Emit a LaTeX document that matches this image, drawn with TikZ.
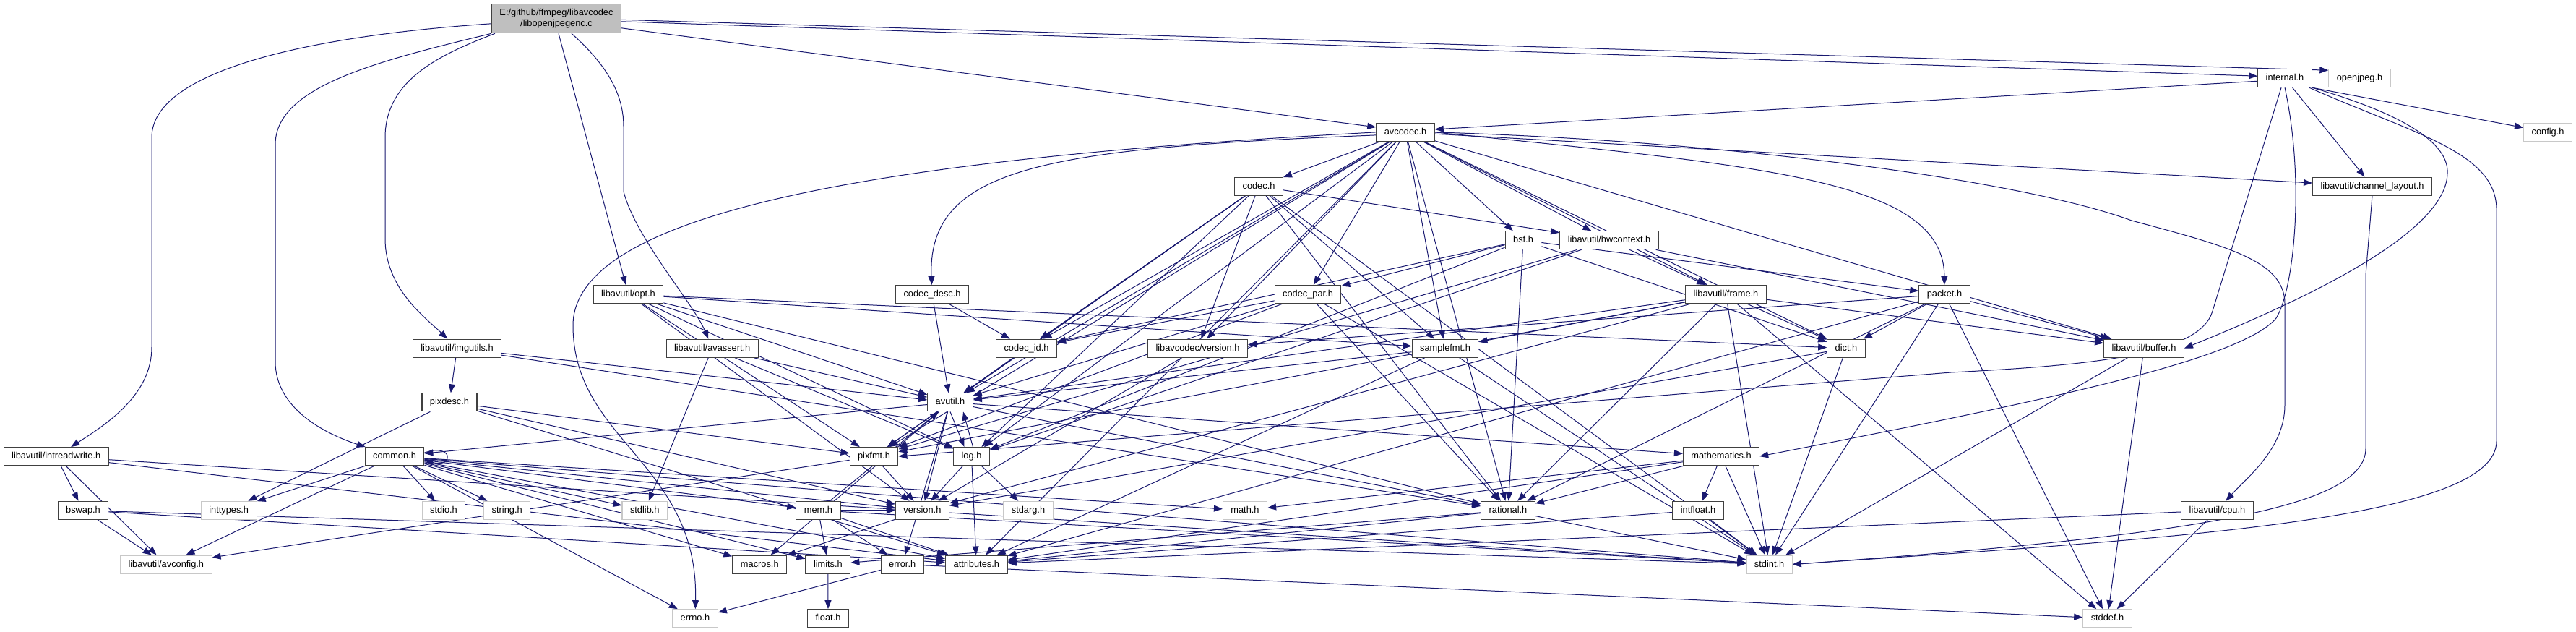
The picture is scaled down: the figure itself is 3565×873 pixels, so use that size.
\documentclass[tikz,border=0pt]{standalone}
\usepackage{fontspec}
\setmainfont{Liberation Sans}
\usetikzlibrary{arrows.meta}
\definecolor{edgec}{RGB}{25,25,112}
\definecolor{rootfill}{RGB}{191,191,191}
\definecolor{gbord}{RGB}{200,200,200}
\newcommand\ndfont{\fontsize{12.8pt}{15pt}\selectfont}
\pgfdeclarelayer{bg}
\pgfdeclarelayer{edges}
\pgfsetlayers{bg,edges,main}
\tikzset{
  nd/.style={draw=black!75, line width=1.1pt, fill=white, inner xsep=11pt, inner ysep=0pt,
    minimum height=25pt, font=\ndfont, text height=9.6pt, text depth=2.6pt},
  gn/.style={nd, draw=gbord},
  rt/.style={draw=black!75, line width=1.1pt, fill=rootfill, inner xsep=11pt, inner ysep=4pt,
    minimum height=40pt, align=center, font=\ndfont},
  e/.style={draw=edgec, line width=1pt, -{Triangle[length=12pt,width=9pt]}},
}
\begin{document}
\begin{tikzpicture}[x=1pt,y=-1pt]
\useasboundingbox (0,0) rectangle (3565,873);
\begin{pgfonlayer}{bg}
\fill[white] (0,0) rectangle (3565,873);
\draw[gbord, line width=1pt] (3563,0) -- (3563,873);
\end{pgfonlayer}
% rank 0-4
\node[rt] (R) at (770,25.8) {E:/github/ffmpeg/libavcodec\\/libopenjpegenc.c};
\node[nd] (INT) at (3162,108.2) {internal.h};
\node[gn] (OJ) at (3265.5,108.2) {openjpeg.h};
\node[nd] (AC) at (1945,182.9) {avcodec.h};
\node[gn] (CFG) at (3526,182.9) {config.h};
\node[nd] (CO) at (1742,257.6) {codec.h};
\node[nd] (CH) at (3283,257.6) {libavutil/channel\_layout.h};
\node[nd] (BSF) at (2108,332.3) {bsf.h};
\node[nd] (HW) at (2227,332.3) {libavutil/hwcontext.h};
% rank 5
\node[nd] (OPT) at (869.5,407) {libavutil/opt.h};
\node[nd] (CD) at (1290,407) {codec\_desc.h};
\node[nd] (CP) at (1810,407) {codec\_par.h};
\node[nd] (FR) at (2388.5,407) {libavutil/frame.h};
\node[nd] (PK) at (2691,407) {packet.h};
% rank 6
\node[nd] (IMG) at (632.5,481.7) {libavutil/imgutils.h};
\node[nd] (AS) at (985.7,481.7) {libavutil/avassert.h};
\node[nd] (CID) at (1420.5,481.7) {codec\_id.h};
\node[nd] (LV) at (1657.5,481.7) {libavcodec/version.h};
\node[nd] (SF) at (2000,481.7) {samplefmt.h};
\node[nd] (DI) at (2555,481.7) {dict.h};
\node[nd] (BUF) at (2967,481.7) {libavutil/buffer.h};
% rank 7
\node[nd] (PD) at (622,556.4) {pixdesc.h};
\node[nd] (AU) at (1315,556.4) {avutil.h};
% rank 8
\node[nd] (IRW) at (77.7,631.1) {libavutil/intreadwrite.h};
\node[nd] (CM) at (546,631.1) {common.h};
\node[nd] (PF) at (1209.5,631.1) {pixfmt.h};
\node[nd] (LOG) at (1344.5,631.1) {log.h};
\node[nd] (MA) at (2382,631.1) {mathematics.h};
% rank 9
\node[nd] (BS) at (115,705.8) {bswap.h};
\node[gn] (IT) at (316.7,705.8) {inttypes.h};
\node[gn] (SIO) at (614,705.8) {stdio.h};
\node[gn] (STR) at (701.7,705.8) {string.h};
\node[gn] (SL) at (892.3,705.8) {stdlib.h};
\node[nd] (MEM) at (1132.4,705.8) {mem.h};
\node[nd] (VER) at (1276.4,705.8) {version.h};
\node[gn] (SA) at (1423,705.8) {stdarg.h};
\node[gn] (MH) at (1723,705.8) {math.h};
\node[nd] (RA) at (2087,705.8) {rational.h};
\node[nd] (IF) at (2350,705.8) {intfloat.h};
\node[nd] (CPU) at (3068.4,705.8) {libavutil/cpu.h};
% rank 10
\node[gn] (AVC) at (229.8,780.5) {libavutil/avconfig.h};
\node[nd] (MAC) at (1051.3,780.5) {macros.h};
\node[nd] (LIM) at (1145.9,780.5) {limits.h};
\node[nd] (ERR) at (1248.7,780.5) {error.h};
\node[nd] (ATT) at (1351.3,780.5) {attributes.h};
\node[gn] (SI) at (2448.6,780.5) {stdint.h};
% rank 11
\node[gn] (ENO) at (962,855.2) {errno.h};
\node[nd] (FL) at (1146,855.2) {float.h};
\node[gn] (SD) at (2916.5,855.2) {stddef.h};

\begin{pgfonlayer}{edges}
% root
\draw[e] ([yshift=-7pt]R.west) .. controls (420,50) and (210,100) .. (210,190) -- (210,480) .. controls (210,545) and (150,585) .. (IRW);
\draw[e] (R.south west) .. controls (520,85) and (381,120) .. (381,200) -- (381,500) .. controls (381,565) and (450,600) .. (CM);
\draw[e] ([xshift=5pt]R.south west) .. controls (610,75) and (533,110) .. (533,190) -- (533,330) .. controls (533,400) and (590,440) .. (IMG);
\draw[e] ([xshift=3pt]R.south) -- (OPT);
\draw[e] ([xshift=21pt]R.south) .. controls (840,90) and (863,130) .. (863,175) -- (863,265) .. controls (880,330) and (960,420) .. (AS);
\draw[e] ([yshift=-13pt]R.east) -- ([yshift=7pt]AC.west);
\draw[e] ([yshift=-4pt]R.east) -- ([yshift=3pt]INT.west);
\draw[e] ([yshift=-1.5pt]R.east) -- ([yshift=11pt]OJ.west);
% internal.h
\draw[e] ([yshift=-4pt]INT.west) -- ([yshift=4pt]AC.east);
\draw[e] (INT.south east) -- (CFG);
\draw[e] (INT) -- (CH);
\draw[e] (INT.south east) .. controls (3300,150) and (3390,190) .. (3387,240) .. controls (3385,330) and (3150,430) .. (BUF.east);
\draw[e] ([xshift=-5pt]INT.south) -- (3062,430) .. controls (3045,490) and (2900,505) .. (2700,515) -- (PF.east);
\draw[e] (INT.south) .. controls (3190,250) and (3175,400) .. (3150,440) .. controls (3100,500) and (2800,560) .. (MA.east);
\draw[e] ([xshift=-4pt]INT.south east) .. controls (3340,185) and (3455,210) .. (3455,290) -- (3455,610) .. controls (3455,720) and (3000,745) .. (SI.east);
% avcodec.h
\draw[e] (AC.west) .. controls (1300,215) and (793,280) .. (793,450) .. controls (793,610) and (967,640) .. (ENO);
\draw[e] ([yshift=-4pt]AC.west) .. controls (1450,205) and (1283,230) .. (CD);
\draw[e] (AC.east) .. controls (2450,230) and (2690,250) .. (PK);
\draw[e] (AC.east) .. controls (2400,195) and (2800,250) .. (2950,305) .. controls (3080,340) and (3162,360) .. (3162,420) -- (3162,560) .. controls (3162,620) and (3110,660) .. (CPU);
\foreach \t in {SF,ATT,AU,BUF,CH,DI,FR,HW,LOG,PF,RA,BSF,CO,CID,CP,LV} \draw[e] (AC) -- (\t);
% codec.h
\foreach \t in {SI,AU,HW,LOG,PF,RA,SF,CID,LV} \draw[e] (CO) -- (\t);
\foreach \t in {AU,CID} \draw[e] (CD) -- (\t);
\draw[e] (CID) -- (AU);
\foreach \t in {SI,AU,RA,PF,CID} \draw[e] (CP) -- (\t);
\foreach \t in {DI,LOG,RA,CID,CP,PK} \draw[e] (BSF) -- (\t);
\foreach \t in {SD,SI,ATT,BUF,DI,RA,LV} \draw[e] (PK) -- (\t);
\draw[e] (LV) -- (VER);
\foreach \t in {BUF,FR,LOG,PF} \draw[e] (HW) -- (\t);
\foreach \t in {SD,SI,AU,BUF,DI,RA,SF,PF,VER} \draw[e] (FR) -- (\t);
\foreach \t in {SD,SI} \draw[e] (BUF) -- (\t);
\foreach \t in {SI,VER} \draw[e] (DI) -- (\t);
\foreach \t in {SI,AU,ATT} \draw[e] (SF) -- (\t);
\draw[e] (CH.south) -- (3274,380) -- (3274,620) .. controls (3274,700) and (3050,740) .. (SI.east);
\foreach \t in {SD,ATT} \draw[e] (CPU) -- (\t);
% avutil.h
\foreach \t in {CM,ERR,RA,VER,MAC,MA,PF} \draw[e] (AU) -- (\t);
\draw[e] (AU.south) -- ([xshift=-10pt]LOG.north);
\draw[e] ([xshift=2pt]LOG.north) -- ([xshift=18pt]AU.south);
% common.h
\foreach \t in {ENO,IT,LIM,MH,SI,SIO,SL,STR,ATT,MAC,VER,AVC,MEM} \draw[e] (CM) -- (\t);
\draw[e] ([yshift=5pt]CM.east) .. controls (628,612) and (628,648) .. ([yshift=-5pt]CM.east);
\foreach \t in {LIM,SI,ATT,ERR,AU,VER} \draw[e] (MEM) -- (\t);
\foreach \t in {ENO,SD} \draw[e] (ERR) -- (\t);
\draw[e] (LIM) -- (FL);
\foreach \t in {SA,ATT,VER} \draw[e] (LOG) -- (\t);
\foreach \t in {AVC,VER} \draw[e] (PF) -- (\t);
\foreach \t in {SI,LIM,ATT} \draw[e] (RA) -- (\t);
\foreach \t in {SI,MH,ATT,RA,IF} \draw[e] (MA) -- (\t);
\foreach \t in {SI,ATT} \draw[e] (IF) -- (\t);
\draw[e] (VER) -- (MAC);
\foreach \t in {SI,AVC,ATT,BS} \draw[e] (IRW) -- (\t);
\foreach \t in {SI,AVC,ATT} \draw[e] (BS) -- (\t);
\foreach \t in {AU,PD,RA} \draw[e] (IMG) -- (\t);
\foreach \t in {IT,ATT,PF,VER} \draw[e] (PD) -- (\t);
\foreach \t in {RA,AU,DI,LOG,PF,SF,VER} \draw[e] (OPT) -- (\t);
\foreach \t in {SL,AU,LOG} \draw[e] (AS) -- (\t);
\end{pgfonlayer}
\end{tikzpicture}
\end{document}
